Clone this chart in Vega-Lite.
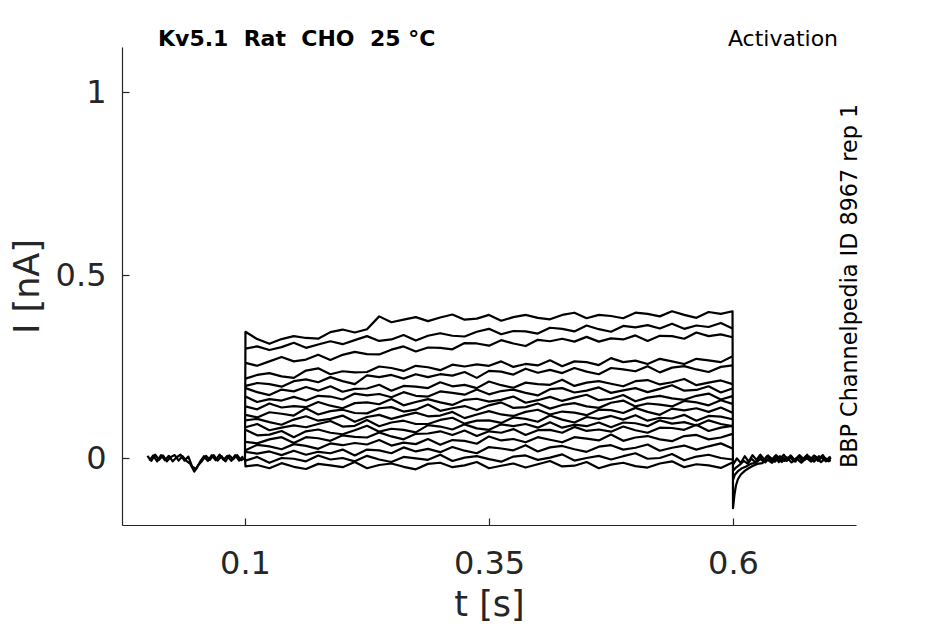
{
"$schema": "https://vega.github.io/schema/vega-lite/v6.json",
"width": 734, "height": 478,
"autosize": {"type": "none"},
"padding": {"left": 122, "top": 47, "right": 89, "bottom": 99},
"background": "white",
"config": {"view": {"stroke": null}, "font": "DejaVu Sans"},
"title": {"text": "Kv5.1\u00a0\u00a0Rat\u00a0\u00a0CHO\u00a0\u00a025\u00a0°C", "anchor": "start", "frame": "group", "dx": 36, "dy": 40, "offset": 0, "baseline": "alphabetic", "fontSize": 22, "fontWeight": "bold", "font": "DejaVu Sans", "color": "#000000"},
"layer": [
{"data": {"values": [
{"s":"p1","t":0,"i":0.006},{"s":"p1","t":0.004,"i":-0.008},{"s":"p1","t":0.008,"i":0.009},{"s":"p1","t":0.012,"i":-0.005},{"s":"p1","t":0.016,"i":0.007},{"s":"p1","t":0.02,"i":-0.009},{"s":"p1","t":0.024,"i":0.003},{"s":"p1","t":0.028,"i":0.008},{"s":"p1","t":0.032,"i":-0.007},{"s":"p1","t":0.036,"i":0.005},{"s":"p1","t":0.04,"i":-0.008},{"s":"p1","t":0.044,"i":-0.016},{"s":"p1","t":0.048,"i":-0.037},{"s":"p1","t":0.052,"i":-0.02},{"s":"p1","t":0.056,"i":-0.008},{"s":"p1","t":0.06,"i":0.006},{"s":"p1","t":0.064,"i":-0.005},{"s":"p1","t":0.068,"i":0.008},{"s":"p1","t":0.072,"i":-0.007},{"s":"p1","t":0.076,"i":0.005},{"s":"p1","t":0.08,"i":-0.009},{"s":"p1","t":0.084,"i":0.007},{"s":"p1","t":0.088,"i":-0.003},{"s":"p1","t":0.092,"i":0.008},{"s":"p1","t":0.096,"i":-0.006},{"s":"p1","t":0.1,"i":0},
{"s":"p2","t":0.002,"i":-0.007},{"s":"p2","t":0.006,"i":0.007},{"s":"p2","t":0.01,"i":-0.009},{"s":"p2","t":0.014,"i":0.008},{"s":"p2","t":0.018,"i":-0.006},{"s":"p2","t":0.022,"i":0.006},{"s":"p2","t":0.026,"i":-0.009},{"s":"p2","t":0.03,"i":0.002},{"s":"p2","t":0.034,"i":0.009},{"s":"p2","t":0.038,"i":-0.007},{"s":"p2","t":0.042,"i":0.004},{"s":"p2","t":0.046,"i":-0.024},{"s":"p2","t":0.05,"i":-0.03},{"s":"p2","t":0.054,"i":-0.01},{"s":"p2","t":0.058,"i":0.005},{"s":"p2","t":0.062,"i":-0.008},{"s":"p2","t":0.066,"i":0.008},{"s":"p2","t":0.07,"i":-0.006},{"s":"p2","t":0.074,"i":0.009},{"s":"p2","t":0.078,"i":-0.005},{"s":"p2","t":0.082,"i":0.006},{"s":"p2","t":0.086,"i":-0.008},{"s":"p2","t":0.09,"i":0.008},{"s":"p2","t":0.094,"i":-0.007},{"s":"p2","t":0.098,"i":0.005},

{"s":1,"t":0.1,"i":0},{"s":1,"t":0.1005,"i":0.345},{"s":1,"t":0.1125,"i":0.325},{"s":1,"t":0.125,"i":0.312},{"s":1,"t":0.1375,"i":0.325},{"s":1,"t":0.15,"i":0.333},{"s":1,"t":0.1625,"i":0.328},{"s":1,"t":0.175,"i":0.326},{"s":1,"t":0.1875,"i":0.344},{"s":1,"t":0.2,"i":0.351},{"s":1,"t":0.2125,"i":0.343},{"s":1,"t":0.225,"i":0.352},{"s":1,"t":0.2375,"i":0.387},{"s":1,"t":0.25,"i":0.371},{"s":1,"t":0.2625,"i":0.378},{"s":1,"t":0.275,"i":0.385},{"s":1,"t":0.2875,"i":0.374},{"s":1,"t":0.3,"i":0.384},{"s":1,"t":0.3125,"i":0.392},{"s":1,"t":0.325,"i":0.378},{"s":1,"t":0.3375,"i":0.381},{"s":1,"t":0.35,"i":0.391},{"s":1,"t":0.3625,"i":0.375},{"s":1,"t":0.375,"i":0.385},{"s":1,"t":0.3875,"i":0.391},{"s":1,"t":0.4,"i":0.383},{"s":1,"t":0.4125,"i":0.379},{"s":1,"t":0.425,"i":0.391},{"s":1,"t":0.4375,"i":0.397},{"s":1,"t":0.45,"i":0.382},{"s":1,"t":0.4625,"i":0.391},{"s":1,"t":0.475,"i":0.388},{"s":1,"t":0.4875,"i":0.382},{"s":1,"t":0.5,"i":0.397},{"s":1,"t":0.5125,"i":0.394},{"s":1,"t":0.525,"i":0.387},{"s":1,"t":0.5375,"i":0.401},{"s":1,"t":0.55,"i":0.391},{"s":1,"t":0.5625,"i":0.383},{"s":1,"t":0.575,"i":0.399},{"s":1,"t":0.5875,"i":0.394},{"s":1,"t":0.5995,"i":0.401},
{"s":1,"t":0.6,"i":-0.137},{"s":1,"t":0.6015,"i":-0.1},{"s":1,"t":0.603,"i":-0.075},{"s":1,"t":0.605,"i":-0.058},{"s":1,"t":0.608,"i":-0.045},{"s":1,"t":0.612,"i":-0.035},{"s":1,"t":0.616,"i":-0.028},{"s":1,"t":0.62,"i":-0.022},{"s":1,"t":0.625,"i":-0.016},{"s":1,"t":0.63,"i":-0.014},{"s":1,"t":0.635,"i":-0.004},{"s":1,"t":0.64,"i":-0.013},{"s":1,"t":0.645,"i":0.001},{"s":1,"t":0.65,"i":-0.011},{"s":1,"t":0.655,"i":0.002},{"s":1,"t":0.66,"i":-0.012},{"s":1,"t":0.665,"i":-0.001},{"s":1,"t":0.67,"i":-0.013},{"s":1,"t":0.675,"i":0.001},{"s":1,"t":0.68,"i":-0.01},{"s":1,"t":0.685,"i":0.003},{"s":1,"t":0.69,"i":-0.011},{"s":1,"t":0.695,"i":-0.001},{"s":1,"t":0.7,"i":-0.009},

{"s":2,"t":0.1005,"i":0.299},{"s":2,"t":0.1125,"i":0.305},{"s":2,"t":0.125,"i":0.295},{"s":2,"t":0.1375,"i":0.303},{"s":2,"t":0.15,"i":0.315},{"s":2,"t":0.1625,"i":0.301},{"s":2,"t":0.175,"i":0.31},{"s":2,"t":0.1875,"i":0.319},{"s":2,"t":0.2,"i":0.311},{"s":2,"t":0.2125,"i":0.322},{"s":2,"t":0.225,"i":0.333},{"s":2,"t":0.2375,"i":0.32},{"s":2,"t":0.25,"i":0.324},{"s":2,"t":0.2625,"i":0.336},{"s":2,"t":0.275,"i":0.321},{"s":2,"t":0.2875,"i":0.334},{"s":2,"t":0.3,"i":0.341},{"s":2,"t":0.3125,"i":0.334},{"s":2,"t":0.325,"i":0.332},{"s":2,"t":0.3375,"i":0.345},{"s":2,"t":0.35,"i":0.353},{"s":2,"t":0.3625,"i":0.338},{"s":2,"t":0.375,"i":0.347},{"s":2,"t":0.3875,"i":0.346},{"s":2,"t":0.4,"i":0.34},{"s":2,"t":0.4125,"i":0.356},{"s":2,"t":0.425,"i":0.353},{"s":2,"t":0.4375,"i":0.346},{"s":2,"t":0.45,"i":0.362},{"s":2,"t":0.4625,"i":0.352},{"s":2,"t":0.475,"i":0.345},{"s":2,"t":0.4875,"i":0.361},{"s":2,"t":0.5,"i":0.357},{"s":2,"t":0.5125,"i":0.363},{"s":2,"t":0.525,"i":0.354},{"s":2,"t":0.5375,"i":0.367},{"s":2,"t":0.55,"i":0.353},{"s":2,"t":0.5625,"i":0.362},{"s":2,"t":0.575,"i":0.358},{"s":2,"t":0.5875,"i":0.369},{"s":2,"t":0.5995,"i":0.354},

{"s":3,"t":0.1005,"i":0.26},{"s":3,"t":0.1125,"i":0.252},{"s":3,"t":0.125,"i":0.264},{"s":3,"t":0.1375,"i":0.276},{"s":3,"t":0.15,"i":0.264},{"s":3,"t":0.1625,"i":0.269},{"s":3,"t":0.175,"i":0.282},{"s":3,"t":0.1875,"i":0.268},{"s":3,"t":0.2,"i":0.282},{"s":3,"t":0.2125,"i":0.29},{"s":3,"t":0.225,"i":0.284},{"s":3,"t":0.2375,"i":0.283},{"s":3,"t":0.25,"i":0.296},{"s":3,"t":0.2625,"i":0.305},{"s":3,"t":0.275,"i":0.291},{"s":3,"t":0.2875,"i":0.302},{"s":3,"t":0.3,"i":0.301},{"s":3,"t":0.3125,"i":0.297},{"s":3,"t":0.325,"i":0.314},{"s":3,"t":0.3375,"i":0.313},{"s":3,"t":0.35,"i":0.307},{"s":3,"t":0.3625,"i":0.322},{"s":3,"t":0.375,"i":0.313},{"s":3,"t":0.3875,"i":0.306},{"s":3,"t":0.4,"i":0.323},{"s":3,"t":0.4125,"i":0.319},{"s":3,"t":0.425,"i":0.326},{"s":3,"t":0.4375,"i":0.318},{"s":3,"t":0.45,"i":0.331},{"s":3,"t":0.4625,"i":0.318},{"s":3,"t":0.475,"i":0.327},{"s":3,"t":0.4875,"i":0.324},{"s":3,"t":0.5,"i":0.335},{"s":3,"t":0.5125,"i":0.32},{"s":3,"t":0.525,"i":0.334},{"s":3,"t":0.5375,"i":0.333},{"s":3,"t":0.55,"i":0.326},{"s":3,"t":0.5625,"i":0.343},{"s":3,"t":0.575,"i":0.333},{"s":3,"t":0.5875,"i":0.338},{"s":3,"t":0.5995,"i":0.33},

{"s":4,"t":0.1005,"i":0.217},{"s":4,"t":0.1125,"i":0.227},{"s":4,"t":0.125,"i":0.232},{"s":4,"t":0.1375,"i":0.223},{"s":4,"t":0.15,"i":0.219},{"s":4,"t":0.1625,"i":0.239},{"s":4,"t":0.175,"i":0.245},{"s":4,"t":0.1875,"i":0.229},{"s":4,"t":0.2,"i":0.237},{"s":4,"t":0.2125,"i":0.234},{"s":4,"t":0.225,"i":0.235},{"s":4,"t":0.2375,"i":0.25},{"s":4,"t":0.25,"i":0.246},{"s":4,"t":0.2625,"i":0.238},{"s":4,"t":0.275,"i":0.252},{"s":4,"t":0.2875,"i":0.248},{"s":4,"t":0.3,"i":0.24},{"s":4,"t":0.3125,"i":0.255},{"s":4,"t":0.325,"i":0.25},{"s":4,"t":0.3375,"i":0.256},{"s":4,"t":0.35,"i":0.252},{"s":4,"t":0.3625,"i":0.264},{"s":4,"t":0.375,"i":0.249},{"s":4,"t":0.3875,"i":0.257},{"s":4,"t":0.4,"i":0.253},{"s":4,"t":0.4125,"i":0.267},{"s":4,"t":0.425,"i":0.251},{"s":4,"t":0.4375,"i":0.264},{"s":4,"t":0.45,"i":0.262},{"s":4,"t":0.4625,"i":0.254},{"s":4,"t":0.475,"i":0.273},{"s":4,"t":0.4875,"i":0.262},{"s":4,"t":0.5,"i":0.266},{"s":4,"t":0.5125,"i":0.257},{"s":4,"t":0.525,"i":0.271},{"s":4,"t":0.5375,"i":0.264},{"s":4,"t":0.55,"i":0.257},{"s":4,"t":0.5625,"i":0.271},{"s":4,"t":0.575,"i":0.267},{"s":4,"t":0.5875,"i":0.262},{"s":4,"t":0.5995,"i":0.278},

{"s":5,"t":0.1005,"i":0.197},{"s":5,"t":0.1125,"i":0.205},{"s":5,"t":0.125,"i":0.202},{"s":5,"t":0.1375,"i":0.195},{"s":5,"t":0.15,"i":0.21},{"s":5,"t":0.1625,"i":0.215},{"s":5,"t":0.175,"i":0.207},{"s":5,"t":0.1875,"i":0.221},{"s":5,"t":0.2,"i":0.21},{"s":5,"t":0.2125,"i":0.202},{"s":5,"t":0.225,"i":0.226},{"s":5,"t":0.2375,"i":0.221},{"s":5,"t":0.25,"i":0.227},{"s":5,"t":0.2625,"i":0.217},{"s":5,"t":0.275,"i":0.229},{"s":5,"t":0.2875,"i":0.221},{"s":5,"t":0.3,"i":0.229},{"s":5,"t":0.3125,"i":0.225},{"s":5,"t":0.325,"i":0.235},{"s":5,"t":0.3375,"i":0.219},{"s":5,"t":0.35,"i":0.238},{"s":5,"t":0.3625,"i":0.236},{"s":5,"t":0.375,"i":0.228},{"s":5,"t":0.3875,"i":0.244},{"s":5,"t":0.4,"i":0.233},{"s":5,"t":0.4125,"i":0.241},{"s":5,"t":0.425,"i":0.232},{"s":5,"t":0.4375,"i":0.246},{"s":5,"t":0.45,"i":0.236},{"s":5,"t":0.4625,"i":0.229},{"s":5,"t":0.475,"i":0.246},{"s":5,"t":0.4875,"i":0.242},{"s":5,"t":0.5,"i":0.237},{"s":5,"t":0.5125,"i":0.251},{"s":5,"t":0.525,"i":0.234},{"s":5,"t":0.5375,"i":0.247},{"s":5,"t":0.55,"i":0.251},{"s":5,"t":0.5625,"i":0.242},{"s":5,"t":0.575,"i":0.235},{"s":5,"t":0.5875,"i":0.249},{"s":5,"t":0.5995,"i":0.253},

{"s":6,"t":0.1005,"i":0.191},{"s":6,"t":0.1125,"i":0.18},{"s":6,"t":0.125,"i":0.172},{"s":6,"t":0.1375,"i":0.187},{"s":6,"t":0.15,"i":0.182},{"s":6,"t":0.1625,"i":0.194},{"s":6,"t":0.175,"i":0.184},{"s":6,"t":0.1875,"i":0.196},{"s":6,"t":0.2,"i":0.181},{"s":6,"t":0.2125,"i":0.189},{"s":6,"t":0.225,"i":0.19},{"s":6,"t":0.2375,"i":0.2},{"s":6,"t":0.25,"i":0.184},{"s":6,"t":0.2625,"i":0.197},{"s":6,"t":0.275,"i":0.195},{"s":6,"t":0.2875,"i":0.191},{"s":6,"t":0.3,"i":0.207},{"s":6,"t":0.3125,"i":0.196},{"s":6,"t":0.325,"i":0.2},{"s":6,"t":0.3375,"i":0.191},{"s":6,"t":0.35,"i":0.209},{"s":6,"t":0.3625,"i":0.199},{"s":6,"t":0.375,"i":0.192},{"s":6,"t":0.3875,"i":0.206},{"s":6,"t":0.4,"i":0.202},{"s":6,"t":0.4125,"i":0.2},{"s":6,"t":0.425,"i":0.214},{"s":6,"t":0.4375,"i":0.197},{"s":6,"t":0.45,"i":0.206},{"s":6,"t":0.4625,"i":0.21},{"s":6,"t":0.475,"i":0.203},{"s":6,"t":0.4875,"i":0.196},{"s":6,"t":0.5,"i":0.21},{"s":6,"t":0.5125,"i":0.213},{"s":6,"t":0.525,"i":0.201},{"s":6,"t":0.5375,"i":0.207},{"s":6,"t":0.55,"i":0.216},{"s":6,"t":0.5625,"i":0.199},{"s":6,"t":0.575,"i":0.206},{"s":6,"t":0.5875,"i":0.212},{"s":6,"t":0.5995,"i":0.202},

{"s":7,"t":0.1005,"i":0.168},{"s":7,"t":0.1125,"i":0.153},{"s":7,"t":0.125,"i":0.161},{"s":7,"t":0.1375,"i":0.157},{"s":7,"t":0.15,"i":0.167},{"s":7,"t":0.1625,"i":0.157},{"s":7,"t":0.175,"i":0.17},{"s":7,"t":0.1875,"i":0.168},{"s":7,"t":0.2,"i":0.16},{"s":7,"t":0.2125,"i":0.176},{"s":7,"t":0.225,"i":0.171},{"s":7,"t":0.2375,"i":0.175},{"s":7,"t":0.25,"i":0.166},{"s":7,"t":0.2625,"i":0.18},{"s":7,"t":0.275,"i":0.17},{"s":7,"t":0.2875,"i":0.168},{"s":7,"t":0.3,"i":0.182},{"s":7,"t":0.3125,"i":0.178},{"s":7,"t":0.325,"i":0.173},{"s":7,"t":0.3375,"i":0.187},{"s":7,"t":0.35,"i":0.174},{"s":7,"t":0.3625,"i":0.183},{"s":7,"t":0.375,"i":0.187},{"s":7,"t":0.3875,"i":0.178},{"s":7,"t":0.4,"i":0.171},{"s":7,"t":0.4125,"i":0.188},{"s":7,"t":0.425,"i":0.191},{"s":7,"t":0.4375,"i":0.179},{"s":7,"t":0.45,"i":0.184},{"s":7,"t":0.4625,"i":0.193},{"s":7,"t":0.475,"i":0.178},{"s":7,"t":0.4875,"i":0.185},{"s":7,"t":0.5,"i":0.191},{"s":7,"t":0.5125,"i":0.18},{"s":7,"t":0.525,"i":0.189},{"s":7,"t":0.5375,"i":0.199},{"s":7,"t":0.55,"i":0.184},{"s":7,"t":0.5625,"i":0.186},{"s":7,"t":0.575,"i":0.196},{"s":7,"t":0.5875,"i":0.179},{"s":7,"t":0.5995,"i":0.19},

{"s":8,"t":0.1005,"i":0.141},{"s":8,"t":0.1125,"i":0.133},{"s":8,"t":0.125,"i":0.149},{"s":8,"t":0.1375,"i":0.138},{"s":8,"t":0.15,"i":0.142},{"s":8,"t":0.1625,"i":0.139},{"s":8,"t":0.175,"i":0.153},{"s":8,"t":0.1875,"i":0.143},{"s":8,"t":0.2,"i":0.136},{"s":8,"t":0.2125,"i":0.15},{"s":8,"t":0.225,"i":0.152},{"s":8,"t":0.2375,"i":0.147},{"s":8,"t":0.25,"i":0.161},{"s":8,"t":0.2625,"i":0.144},{"s":8,"t":0.275,"i":0.153},{"s":8,"t":0.2875,"i":0.161},{"s":8,"t":0.3,"i":0.152},{"s":8,"t":0.3125,"i":0.145},{"s":8,"t":0.325,"i":0.159},{"s":8,"t":0.3375,"i":0.162},{"s":8,"t":0.35,"i":0.154},{"s":8,"t":0.3625,"i":0.159},{"s":8,"t":0.375,"i":0.168},{"s":8,"t":0.3875,"i":0.151},{"s":8,"t":0.4,"i":0.158},{"s":8,"t":0.4125,"i":0.167},{"s":8,"t":0.425,"i":0.156},{"s":8,"t":0.4375,"i":0.165},{"s":8,"t":0.45,"i":0.173},{"s":8,"t":0.4625,"i":0.158},{"s":8,"t":0.475,"i":0.162},{"s":8,"t":0.4875,"i":0.172},{"s":8,"t":0.5,"i":0.155},{"s":8,"t":0.5125,"i":0.165},{"s":8,"t":0.525,"i":0.17},{"s":8,"t":0.5375,"i":0.163},{"s":8,"t":0.55,"i":0.159},{"s":8,"t":0.5625,"i":0.17},{"s":8,"t":0.575,"i":0.176},{"s":8,"t":0.5875,"i":0.16},{"s":8,"t":0.5995,"i":0.169},

{"s":9,"t":0.1005,"i":0.118},{"s":9,"t":0.1125,"i":0.111},{"s":9,"t":0.125,"i":0.125},{"s":9,"t":0.1375,"i":0.121},{"s":9,"t":0.15,"i":0.116},{"s":9,"t":0.1625,"i":0.136},{"s":9,"t":0.175,"i":0.119},{"s":9,"t":0.1875,"i":0.128},{"s":9,"t":0.2,"i":0.132},{"s":9,"t":0.2125,"i":0.123},{"s":9,"t":0.225,"i":0.122},{"s":9,"t":0.2375,"i":0.136},{"s":9,"t":0.25,"i":0.139},{"s":9,"t":0.2625,"i":0.127},{"s":9,"t":0.275,"i":0.132},{"s":9,"t":0.2875,"i":0.146},{"s":9,"t":0.3,"i":0.129},{"s":9,"t":0.3125,"i":0.136},{"s":9,"t":0.325,"i":0.142},{"s":9,"t":0.3375,"i":0.131},{"s":9,"t":0.35,"i":0.144},{"s":9,"t":0.3625,"i":0.152},{"s":9,"t":0.375,"i":0.137},{"s":9,"t":0.3875,"i":0.139},{"s":9,"t":0.4,"i":0.149},{"s":9,"t":0.4125,"i":0.135},{"s":9,"t":0.425,"i":0.145},{"s":9,"t":0.4375,"i":0.15},{"s":9,"t":0.45,"i":0.141},{"s":9,"t":0.4625,"i":0.137},{"s":9,"t":0.475,"i":0.151},{"s":9,"t":0.4875,"i":0.157},{"s":9,"t":0.5,"i":0.141},{"s":9,"t":0.5125,"i":0.149},{"s":9,"t":0.525,"i":0.146},{"s":9,"t":0.5375,"i":0.141},{"s":9,"t":0.55,"i":0.156},{"s":9,"t":0.5625,"i":0.152},{"s":9,"t":0.575,"i":0.144},{"s":9,"t":0.5875,"i":0.158},{"s":9,"t":0.5995,"i":0.148},

{"s":10,"t":0.1005,"i":0.103},{"s":10,"t":0.1125,"i":0.107},{"s":10,"t":0.125,"i":0.098},{"s":10,"t":0.1375,"i":0.091},{"s":10,"t":0.15,"i":0.105},{"s":10,"t":0.1625,"i":0.114},{"s":10,"t":0.175,"i":0.102},{"s":10,"t":0.1875,"i":0.107},{"s":10,"t":0.2,"i":0.116},{"s":10,"t":0.2125,"i":0.099},{"s":10,"t":0.225,"i":0.112},{"s":10,"t":0.2375,"i":0.118},{"s":10,"t":0.25,"i":0.107},{"s":10,"t":0.2625,"i":0.116},{"s":10,"t":0.275,"i":0.124},{"s":10,"t":0.2875,"i":0.114},{"s":10,"t":0.3,"i":0.116},{"s":10,"t":0.3125,"i":0.126},{"s":10,"t":0.325,"i":0.109},{"s":10,"t":0.3375,"i":0.119},{"s":10,"t":0.35,"i":0.128},{"s":10,"t":0.3625,"i":0.119},{"s":10,"t":0.375,"i":0.115},{"s":10,"t":0.3875,"i":0.126},{"s":10,"t":0.4,"i":0.132},{"s":10,"t":0.4125,"i":0.119},{"s":10,"t":0.425,"i":0.127},{"s":10,"t":0.4375,"i":0.124},{"s":10,"t":0.45,"i":0.117},{"s":10,"t":0.4625,"i":0.132},{"s":10,"t":0.475,"i":0.131},{"s":10,"t":0.4875,"i":0.123},{"s":10,"t":0.5,"i":0.137},{"s":10,"t":0.5125,"i":0.126},{"s":10,"t":0.525,"i":0.118},{"s":10,"t":0.5375,"i":0.135},{"s":10,"t":0.55,"i":0.13},{"s":10,"t":0.5625,"i":0.136},{"s":10,"t":0.575,"i":0.126},{"s":10,"t":0.5875,"i":0.138},{"s":10,"t":0.5995,"i":0.124},

{"s":11,"t":0.1005,"i":0.084},{"s":11,"t":0.1125,"i":0.093},{"s":11,"t":0.125,"i":0.076},{"s":11,"t":0.1375,"i":0.083},{"s":11,"t":0.15,"i":0.089},{"s":11,"t":0.1625,"i":0.084},{"s":11,"t":0.175,"i":0.093},{"s":11,"t":0.1875,"i":0.101},{"s":11,"t":0.2,"i":0.086},{"s":11,"t":0.2125,"i":0.088},{"s":11,"t":0.225,"i":0.104},{"s":11,"t":0.2375,"i":0.087},{"s":11,"t":0.25,"i":0.097},{"s":11,"t":0.2625,"i":0.102},{"s":11,"t":0.275,"i":0.093},{"s":11,"t":0.2875,"i":0.093},{"s":11,"t":0.3,"i":0.104},{"s":11,"t":0.3125,"i":0.11},{"s":11,"t":0.325,"i":0.094},{"s":11,"t":0.3375,"i":0.102},{"s":11,"t":0.35,"i":0.103},{"s":11,"t":0.3625,"i":0.096},{"s":11,"t":0.375,"i":0.111},{"s":11,"t":0.3875,"i":0.107},{"s":11,"t":0.4,"i":0.099},{"s":11,"t":0.4125,"i":0.116},{"s":11,"t":0.425,"i":0.105},{"s":11,"t":0.4375,"i":0.097},{"s":11,"t":0.45,"i":0.112},{"s":11,"t":0.4625,"i":0.107},{"s":11,"t":0.475,"i":0.115},{"s":11,"t":0.4875,"i":0.105},{"s":11,"t":0.5,"i":0.117},{"s":11,"t":0.5125,"i":0.102},{"s":11,"t":0.525,"i":0.11},{"s":11,"t":0.5375,"i":0.108},{"s":11,"t":0.55,"i":0.118},{"s":11,"t":0.5625,"i":0.102},{"s":11,"t":0.575,"i":0.115},{"s":11,"t":0.5875,"i":0.113},{"s":11,"t":0.5995,"i":0.106},

{"s":12,"t":0.1005,"i":0.077},{"s":12,"t":0.1125,"i":0.062},{"s":12,"t":0.125,"i":0.064},{"s":12,"t":0.1375,"i":0.074},{"s":12,"t":0.15,"i":0.057},{"s":12,"t":0.1625,"i":0.073},{"s":12,"t":0.175,"i":0.078},{"s":12,"t":0.1875,"i":0.069},{"s":12,"t":0.2,"i":0.065},{"s":12,"t":0.2125,"i":0.076},{"s":12,"t":0.225,"i":0.088},{"s":12,"t":0.2375,"i":0.072},{"s":12,"t":0.25,"i":0.08},{"s":12,"t":0.2625,"i":0.077},{"s":12,"t":0.275,"i":0.07},{"s":12,"t":0.2875,"i":0.09},{"s":12,"t":0.3,"i":0.086},{"s":12,"t":0.3125,"i":0.078},{"s":12,"t":0.325,"i":0.092},{"s":12,"t":0.3375,"i":0.081},{"s":12,"t":0.35,"i":0.077},{"s":12,"t":0.3625,"i":0.092},{"s":12,"t":0.375,"i":0.087},{"s":12,"t":0.3875,"i":0.093},{"s":12,"t":0.4,"i":0.083},{"s":12,"t":0.4125,"i":0.098},{"s":12,"t":0.425,"i":0.083},{"s":12,"t":0.4375,"i":0.091},{"s":12,"t":0.45,"i":0.087},{"s":12,"t":0.4625,"i":0.097},{"s":12,"t":0.475,"i":0.084},{"s":12,"t":0.4875,"i":0.097},{"s":12,"t":0.5,"i":0.095},{"s":12,"t":0.5125,"i":0.087},{"s":12,"t":0.525,"i":0.103},{"s":12,"t":0.5375,"i":0.094},{"s":12,"t":0.55,"i":0.098},{"s":12,"t":0.5625,"i":0.089},{"s":12,"t":0.575,"i":0.103},{"s":12,"t":0.5875,"i":0.093},{"s":12,"t":0.5995,"i":0.087},

{"s":13,"t":0.1005,"i":0.044},{"s":13,"t":0.1125,"i":0.04},{"s":13,"t":0.125,"i":0.051},{"s":13,"t":0.1375,"i":0.057},{"s":13,"t":0.15,"i":0.041},{"s":13,"t":0.1625,"i":0.057},{"s":13,"t":0.175,"i":0.054},{"s":13,"t":0.1875,"i":0.047},{"s":13,"t":0.2,"i":0.062},{"s":13,"t":0.2125,"i":0.058},{"s":13,"t":0.225,"i":0.056},{"s":13,"t":0.2375,"i":0.07},{"s":13,"t":0.25,"i":0.059},{"s":13,"t":0.2625,"i":0.051},{"s":13,"t":0.275,"i":0.066},{"s":13,"t":0.2875,"i":0.067},{"s":13,"t":0.3,"i":0.073},{"s":13,"t":0.3125,"i":0.063},{"s":13,"t":0.325,"i":0.075},{"s":13,"t":0.3375,"i":0.06},{"s":13,"t":0.35,"i":0.073},{"s":13,"t":0.3625,"i":0.069},{"s":13,"t":0.375,"i":0.079},{"s":13,"t":0.3875,"i":0.063},{"s":13,"t":0.4,"i":0.076},{"s":13,"t":0.4125,"i":0.077},{"s":13,"t":0.425,"i":0.069},{"s":13,"t":0.4375,"i":0.085},{"s":13,"t":0.45,"i":0.074},{"s":13,"t":0.4625,"i":0.078},{"s":13,"t":0.475,"i":0.072},{"s":13,"t":0.4875,"i":0.086},{"s":13,"t":0.5,"i":0.076},{"s":13,"t":0.5125,"i":0.069},{"s":13,"t":0.525,"i":0.083},{"s":13,"t":0.5375,"i":0.082},{"s":13,"t":0.55,"i":0.077},{"s":13,"t":0.5625,"i":0.091},{"s":13,"t":0.575,"i":0.074},{"s":13,"t":0.5875,"i":0.083},{"s":13,"t":0.5995,"i":0.088},

{"s":14,"t":0.1005,"i":0.021},{"s":14,"t":0.1125,"i":0.036},{"s":14,"t":0.125,"i":0.032},{"s":14,"t":0.1375,"i":0.024},{"s":14,"t":0.15,"i":0.038},{"s":14,"t":0.1625,"i":0.033},{"s":14,"t":0.175,"i":0.025},{"s":14,"t":0.1875,"i":0.04},{"s":14,"t":0.2,"i":0.035},{"s":14,"t":0.2125,"i":0.041},{"s":14,"t":0.225,"i":0.037},{"s":14,"t":0.2375,"i":0.049},{"s":14,"t":0.25,"i":0.034},{"s":14,"t":0.2625,"i":0.042},{"s":14,"t":0.275,"i":0.038},{"s":14,"t":0.2875,"i":0.052},{"s":14,"t":0.3,"i":0.036},{"s":14,"t":0.3125,"i":0.049},{"s":14,"t":0.325,"i":0.047},{"s":14,"t":0.3375,"i":0.039},{"s":14,"t":0.35,"i":0.059},{"s":14,"t":0.3625,"i":0.048},{"s":14,"t":0.375,"i":0.052},{"s":14,"t":0.3875,"i":0.043},{"s":14,"t":0.4,"i":0.057},{"s":14,"t":0.4125,"i":0.05},{"s":14,"t":0.425,"i":0.043},{"s":14,"t":0.4375,"i":0.057},{"s":14,"t":0.45,"i":0.053},{"s":14,"t":0.4625,"i":0.048},{"s":14,"t":0.475,"i":0.064},{"s":14,"t":0.4875,"i":0.047},{"s":14,"t":0.5,"i":0.056},{"s":14,"t":0.5125,"i":0.06},{"s":14,"t":0.525,"i":0.051},{"s":14,"t":0.5375,"i":0.046},{"s":14,"t":0.55,"i":0.06},{"s":14,"t":0.5625,"i":0.063},{"s":14,"t":0.575,"i":0.051},{"s":14,"t":0.5875,"i":0.056},{"s":14,"t":0.5995,"i":0.066},

{"s":15,"t":0.1005,"i":0.017},{"s":15,"t":0.1125,"i":0.012},{"s":15,"t":0.125,"i":0.018},{"s":15,"t":0.1375,"i":0.008},{"s":15,"t":0.15,"i":0.02},{"s":15,"t":0.1625,"i":0.009},{"s":15,"t":0.175,"i":0.017},{"s":15,"t":0.1875,"i":0.013},{"s":15,"t":0.2,"i":0.023},{"s":15,"t":0.2125,"i":0.007},{"s":15,"t":0.225,"i":0.023},{"s":15,"t":0.2375,"i":0.021},{"s":15,"t":0.25,"i":0.013},{"s":15,"t":0.2625,"i":0.029},{"s":15,"t":0.275,"i":0.018},{"s":15,"t":0.2875,"i":0.025},{"s":15,"t":0.3,"i":0.016},{"s":15,"t":0.3125,"i":0.03},{"s":15,"t":0.325,"i":0.02},{"s":15,"t":0.3375,"i":0.013},{"s":15,"t":0.35,"i":0.03},{"s":15,"t":0.3625,"i":0.026},{"s":15,"t":0.375,"i":0.021},{"s":15,"t":0.3875,"i":0.035},{"s":15,"t":0.4,"i":0.018},{"s":15,"t":0.4125,"i":0.029},{"s":15,"t":0.425,"i":0.033},{"s":15,"t":0.4375,"i":0.024},{"s":15,"t":0.45,"i":0.017},{"s":15,"t":0.4625,"i":0.031},{"s":15,"t":0.475,"i":0.035},{"s":15,"t":0.4875,"i":0.023},{"s":15,"t":0.5,"i":0.028},{"s":15,"t":0.5125,"i":0.037},{"s":15,"t":0.525,"i":0.02},{"s":15,"t":0.5375,"i":0.028},{"s":15,"t":0.55,"i":0.034},{"s":15,"t":0.5625,"i":0.023},{"s":15,"t":0.575,"i":0.032},{"s":15,"t":0.5875,"i":0.04},{"s":15,"t":0.5995,"i":0.026},

{"s":16,"t":0.1005,"i":-0.007},{"s":16,"t":0.1125,"i":0.003},{"s":16,"t":0.125,"i":-0.013},{"s":16,"t":0.1375,"i":0},{"s":16,"t":0.15,"i":-0.002},{"s":16,"t":0.1625,"i":-0.009},{"s":16,"t":0.175,"i":0.007},{"s":16,"t":0.1875,"i":-0.004},{"s":16,"t":0.2,"i":0},{"s":16,"t":0.2125,"i":-0.009},{"s":16,"t":0.225,"i":0.006},{"s":16,"t":0.2375,"i":-0.004},{"s":16,"t":0.25,"i":-0.011},{"s":16,"t":0.2625,"i":0.003},{"s":16,"t":0.275,"i":-0.001},{"s":16,"t":0.2875,"i":-0.005},{"s":16,"t":0.3,"i":0.009},{"s":16,"t":0.3125,"i":-0.008},{"s":16,"t":0.325,"i":0.001},{"s":16,"t":0.3375,"i":0.005},{"s":16,"t":0.35,"i":-0.003},{"s":16,"t":0.3625,"i":-0.01},{"s":16,"t":0.375,"i":0.004},{"s":16,"t":0.3875,"i":0.007},{"s":16,"t":0.4,"i":-0.005},{"s":16,"t":0.4125,"i":0.001},{"s":16,"t":0.425,"i":0.01},{"s":16,"t":0.4375,"i":-0.007},{"s":16,"t":0.45,"i":0},{"s":16,"t":0.4625,"i":0.006},{"s":16,"t":0.475,"i":-0.004},{"s":16,"t":0.4875,"i":0.005},{"s":16,"t":0.5,"i":0.013},{"s":16,"t":0.5125,"i":-0.002},{"s":16,"t":0.525,"i":0},{"s":16,"t":0.5375,"i":0.011},{"s":16,"t":0.55,"i":-0.006},{"s":16,"t":0.5625,"i":0.004},{"s":16,"t":0.575,"i":0.009},{"s":16,"t":0.5875,"i":0},{"s":16,"t":0.5995,"i":-0.004},

{"s":17,"t":0.1,"i":0},{"s":17,"t":0.1005,"i":-0.023},{"s":17,"t":0.1125,"i":-0.019},{"s":17,"t":0.125,"i":-0.028},{"s":17,"t":0.1375,"i":-0.014},{"s":17,"t":0.15,"i":-0.024},{"s":17,"t":0.1625,"i":-0.03},{"s":17,"t":0.175,"i":-0.016},{"s":17,"t":0.1875,"i":-0.02},{"s":17,"t":0.2,"i":-0.025},{"s":17,"t":0.2125,"i":-0.011},{"s":17,"t":0.225,"i":-0.028},{"s":17,"t":0.2375,"i":-0.019},{"s":17,"t":0.25,"i":-0.015},{"s":17,"t":0.2625,"i":-0.024},{"s":17,"t":0.275,"i":-0.031},{"s":17,"t":0.2875,"i":-0.016},{"s":17,"t":0.3,"i":-0.013},{"s":17,"t":0.3125,"i":-0.025},{"s":17,"t":0.325,"i":-0.02},{"s":17,"t":0.3375,"i":-0.011},{"s":17,"t":0.35,"i":-0.028},{"s":17,"t":0.3625,"i":-0.021},{"s":17,"t":0.375,"i":-0.015},{"s":17,"t":0.3875,"i":-0.026},{"s":17,"t":0.4,"i":-0.017},{"s":17,"t":0.4125,"i":-0.008},{"s":17,"t":0.425,"i":-0.023},{"s":17,"t":0.4375,"i":-0.021},{"s":17,"t":0.45,"i":-0.011},{"s":17,"t":0.4625,"i":-0.028},{"s":17,"t":0.475,"i":-0.018},{"s":17,"t":0.4875,"i":-0.013},{"s":17,"t":0.5,"i":-0.022},{"s":17,"t":0.5125,"i":-0.026},{"s":17,"t":0.525,"i":-0.015},{"s":17,"t":0.5375,"i":-0.009},{"s":17,"t":0.55,"i":-0.025},{"s":17,"t":0.5625,"i":-0.017},{"s":17,"t":0.575,"i":-0.02},{"s":17,"t":0.5875,"i":-0.027},{"s":17,"t":0.5995,"i":-0.012},

{"s":"q1","t":0.6,"i":-0.06},{"s":"q1","t":0.602,"i":-0.045},{"s":"q1","t":0.605,"i":-0.036},{"s":"q1","t":0.609,"i":-0.028},{"s":"q1","t":0.613,"i":-0.024},{"s":"q1","t":0.618,"i":-0.016},{"s":"q1","t":0.623,"i":-0.013},{"s":"q1","t":0.628,"i":-0.003},{"s":"q1","t":0.633,"i":-0.012},{"s":"q1","t":0.638,"i":0.002},{"s":"q1","t":0.643,"i":-0.01},{"s":"q1","t":0.648,"i":0.005},{"s":"q1","t":0.653,"i":-0.008},{"s":"q1","t":0.658,"i":0.003},{"s":"q1","t":0.663,"i":-0.009},{"s":"q1","t":0.668,"i":0.006},{"s":"q1","t":0.673,"i":-0.006},{"s":"q1","t":0.678,"i":0.004},{"s":"q1","t":0.683,"i":-0.01},{"s":"q1","t":0.688,"i":0.005},{"s":"q1","t":0.693,"i":-0.004},{"s":"q1","t":0.698,"i":-0.009},{"s":"q1","t":0.7,"i":0.001},
{"s":"q2","t":0.6,"i":-0.035},{"s":"q2","t":0.603,"i":-0.026},{"s":"q2","t":0.607,"i":-0.018},{"s":"q2","t":0.611,"i":-0.008},{"s":"q2","t":0.615,"i":-0.015},{"s":"q2","t":0.619,"i":-0.002},{"s":"q2","t":0.623,"i":-0.012},{"s":"q2","t":0.627,"i":0.004},{"s":"q2","t":0.631,"i":-0.009},{"s":"q2","t":0.635,"i":0.006},{"s":"q2","t":0.639,"i":-0.006},{"s":"q2","t":0.643,"i":0.005},{"s":"q2","t":0.647,"i":-0.011},{"s":"q2","t":0.651,"i":0.002},{"s":"q2","t":0.655,"i":-0.008},{"s":"q2","t":0.659,"i":0.007},{"s":"q2","t":0.663,"i":-0.005},{"s":"q2","t":0.667,"i":0.005},{"s":"q2","t":0.671,"i":-0.01},{"s":"q2","t":0.675,"i":0.006},{"s":"q2","t":0.679,"i":-0.004},{"s":"q2","t":0.683,"i":0.007},{"s":"q2","t":0.687,"i":-0.008},{"s":"q2","t":0.691,"i":0.004},{"s":"q2","t":0.695,"i":-0.009},{"s":"q2","t":0.699,"i":0.003},
{"s":"q3","t":0.6,"i":-0.018},{"s":"q3","t":0.604,"i":-0.001},{"s":"q3","t":0.608,"i":-0.014},{"s":"q3","t":0.612,"i":0.005},{"s":"q3","t":0.616,"i":-0.01},{"s":"q3","t":0.62,"i":0.008},{"s":"q3","t":0.624,"i":-0.005},{"s":"q3","t":0.628,"i":0.009},{"s":"q3","t":0.632,"i":-0.004},{"s":"q3","t":0.636,"i":0.007},{"s":"q3","t":0.64,"i":-0.009},{"s":"q3","t":0.644,"i":0.008},{"s":"q3","t":0.648,"i":-0.002},{"s":"q3","t":0.652,"i":0.009},{"s":"q3","t":0.656,"i":-0.006},{"s":"q3","t":0.66,"i":0.004},{"s":"q3","t":0.664,"i":-0.01},{"s":"q3","t":0.668,"i":0.008},{"s":"q3","t":0.672,"i":-0.002},{"s":"q3","t":0.676,"i":0.009},{"s":"q3","t":0.68,"i":-0.008},{"s":"q3","t":0.684,"i":0.005},{"s":"q3","t":0.688,"i":-0.004},{"s":"q3","t":0.692,"i":0.008},{"s":"q3","t":0.696,"i":-0.007},{"s":"q3","t":0.7,"i":0.004}
]},
"mark": {"type": "line", "stroke": "#000000", "strokeWidth": 2.2, "strokeJoin": "round"},
"encoding": {
"x": {"field": "t", "type": "quantitative", "scale": {"domain": [-0.026, 0.726], "nice": false, "zero": false},
"axis": {"values": [0.1, 0.35, 0.6], "format": "~g", "title": "t [s]", "grid": false, "domainColor": "#262626", "domainWidth": 1.2, "tickColor": "#262626", "tickWidth": 1.2, "tickSize": -7, "labelPadding": 30, "labelFont": "DejaVu Sans", "labelFontSize": 32, "labelColor": "#262626", "titleFont": "DejaVu Sans", "titleFontSize": 35, "titleFontWeight": "normal", "titleColor": "#262626", "titleBaseline": "alphabetic", "titleY": 90}},
"y": {"field": "i", "type": "quantitative", "scale": {"domain": [-0.183, 1.123], "nice": false, "zero": false},
"axis": {"values": [0, 0.5, 1], "format": "~g", "title": "I [nA]", "grid": false, "domainColor": "#262626", "domainWidth": 1.2, "tickColor": "#262626", "tickWidth": 1.2, "tickSize": -7, "labelPadding": 23, "labelFont": "DejaVu Sans", "labelFontSize": 32, "labelColor": "#262626", "titleFont": "DejaVu Sans", "titleFontSize": 35, "titleFontWeight": "normal", "titleColor": "#262626", "titleBaseline": "alphabetic", "titleAngle": 270, "titleAlign": "center", "titleX": -84, "titleY": 239}},
"detail": {"field": "s", "type": "nominal"}
}},
{"data": {"values": [{}]},
"mark": {"type": "text", "text": "Activation", "font": "DejaVu Sans", "fontSize": 22, "align": "right", "baseline": "alphabetic", "color": "#000000"},
"encoding": {"x": {"datum": 0.7076}, "y": {"datum": 1.1257}}},
{"data": {"values": [{}]},
"mark": {"type": "text", "text": "BBP Channelpedia ID 8967 rep 1", "font": "DejaVu Sans", "fontSize": 22.3, "angle": 270, "align": "left", "baseline": "middle", "color": "#000000"},
"encoding": {"x": {"datum": 0.7199}, "y": {"datum": -0.0273}}}
]
}
